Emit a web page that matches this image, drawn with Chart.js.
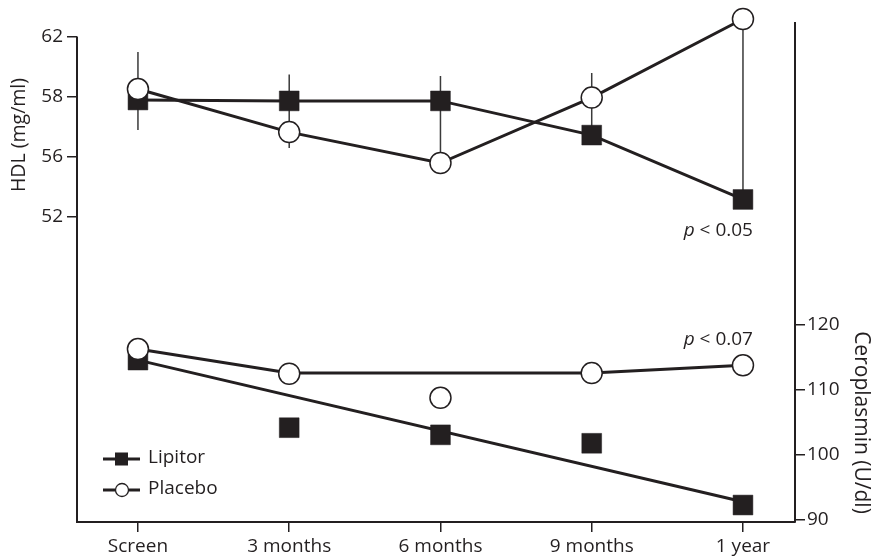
<!DOCTYPE html>
<html><head><meta charset="utf-8">
<script src="https://cdn.jsdelivr.net/npm/chart.js@4.4.0/dist/chart.umd.min.js"></script>
<style>html,body{margin:0;padding:0;background:#fff}#wrap{width:871px;height:560px;position:relative}</style>
</head><body><div id="wrap"><canvas id="c"></canvas></div>
<script>
// ---- data ----
const categories = ['Screen', '3 months', '6 months', '9 months', '1 year'];
const hdlTickLabels = [62, 58, 56, 52];
const ceruloTickLabels = [90, 100, 110, 120];
const hdlLipitor = [57.9, 57.87, 57.87, 56.73, 53.17];
const hdlPlacebo = [58.53, 56.83, 55.6, 57.98, 63.2];
const hdlErrLow = [56.9, 56.3, 55.6, 56.73, 53.17];
const hdlErrHigh = [61.0, 59.5, 59.4, 59.6, 63.2];
const ceruloLipitor = [114.6, 104.2, 103.1, 101.8, 92.3];
const ceruloPlacebo = [116.3, 112.5, 108.8, 112.6, 113.8];
const ceruloLipitorFit = [114.6, null, null, null, 92.8];
const ceruloPlaceboFit = [116.3, 112.6, null, 112.6, 113.8];
const seriesNames = ['Lipitor', 'Placebo'];
const pNotes = [' < 0.05', ' < 0.07'];

// ---- helpers ----
const INK = '#231f20';
const FONT = '"Open Sans", Lato, sans-serif';
const FS = 19;
// HDL axis labels are equally spaced; map a value to its label-index position
function hdlPos(v) {
  if (v === null) return null;
  const t = hdlTickLabels;
  let i = 0;
  while (i < t.length - 2 && v < t[i + 1]) i++;
  return i + (t[i] - v) / (t[i] - t[i + 1]);
}
const pts = (arr, f) => arr.map((v, i) => ({ x: i, y: v === null ? null : (f ? f(v) : v) }));
const errData = [];
hdlErrLow.forEach((lo, i) => {
  errData.push({ x: i, y: hdlPos(hdlErrHigh[i]) }, { x: i, y: hdlPos(lo) }, { x: i, y: null });
});

const lineBase = { borderColor: INK, borderWidth: 3, pointRadius: 0, fill: false, clip: false, tension: 0 };
const sqMarker = { showLine: false, pointStyle: 'rect', pointRadius: 14, pointBackgroundColor: INK, pointBorderColor: INK, pointBorderWidth: 0.5, clip: false, order: 1 };
const ciMarker = { showLine: false, pointStyle: 'circle', pointRadius: 10.5, pointBackgroundColor: '#fff', pointBorderColor: INK, pointBorderWidth: 1.5, clip: false, order: 0 };

const overlay = {
  id: 'overlay',
  afterDraw(chart) {
    const ctx = chart.ctx, ca = chart.chartArea;
    const xs = chart.scales.x, yL = chart.scales.yL, yR = chart.scales.yR;
    ctx.save();
    // left axis line (starts at top tick)
    ctx.strokeStyle = INK; ctx.lineWidth = 2;
    ctx.beginPath();
    ctx.moveTo(ca.left, yL.getPixelForValue(0) - 0.5);
    ctx.lineTo(ca.left, ca.bottom + 1);
    ctx.stroke();
    // axis titles
    ctx.fillStyle = INK;
    ctx.textAlign = 'center'; ctx.textBaseline = 'middle';
    ctx.save();
    ctx.font = '19.5px ' + FONT;
    ctx.translate(19, (yL.getPixelForValue(0) + yL.getPixelForValue(3)) / 2 + 8);
    ctx.rotate(-Math.PI / 2);
    ctx.fillText('HDL (mg/ml)', 0, 0);
    ctx.restore();
    ctx.save();
    ctx.font = '21px ' + FONT;
    ctx.translate(861, (yR.getPixelForValue(90) + yR.getPixelForValue(120)) / 2);
    ctx.rotate(Math.PI / 2);
    ctx.fillText('Ceroplasmin (U/dl)', 0, 0);
    ctx.restore();
    // p annotations
    const xRight = xs.getPixelForValue(4) + 10;
    const notesY = [yL.getPixelForValue(3) + 19, yR.getPixelForValue(116.9)];
    ctx.textBaseline = 'alphabetic'; ctx.textAlign = 'left';
    pNotes.forEach((t, k) => {
      ctx.font = FS + 'px ' + FONT;
      const w2 = ctx.measureText(t).width;
      ctx.font = 'italic ' + FS + 'px ' + FONT;
      const w1 = ctx.measureText('p').width;
      const x0 = xRight - w1 - w2;
      ctx.fillText('p', x0, notesY[k]);
      ctx.font = FS + 'px ' + FONT;
      ctx.fillText(t, x0 + w1, notesY[k]);
    });
    // legend
    const lx = ca.left + 26, ly = [ca.bottom - 63, ca.bottom - 32];
    ctx.lineWidth = 3; ctx.strokeStyle = INK;
    seriesNames.forEach((name, k) => {
      ctx.beginPath(); ctx.moveTo(lx, ly[k]); ctx.lineTo(lx + 37, ly[k]); ctx.stroke();
      if (k === 0) {
        ctx.fillStyle = INK; ctx.fillRect(lx + 12, ly[k] - 6.5, 13, 13);
      } else {
        ctx.fillStyle = '#fff'; ctx.lineWidth = 1.3;
        ctx.beginPath(); ctx.arc(lx + 19, ly[k], 6.5, 0, Math.PI * 2); ctx.fill(); ctx.stroke();
        ctx.lineWidth = 3;
      }
      ctx.fillStyle = INK; ctx.font = FS + 'px ' + FONT; ctx.textBaseline = 'middle';
      ctx.fillText(name, lx + 45, ly[k] - 1);
    });
    ctx.restore();
  }
};

new Chart(document.getElementById('c'), {
  type: 'line',
  data: {
    datasets: [
      Object.assign({ label: 'HDL Lipitor line', data: pts(hdlLipitor, hdlPos), yAxisID: 'yL', order: 2 }, lineBase),
      Object.assign({ label: 'HDL Placebo line', data: pts(hdlPlacebo, hdlPos), yAxisID: 'yL', order: 2 }, lineBase),
      Object.assign({ label: 'Cerulo Lipitor fit', data: pts(ceruloLipitorFit), yAxisID: 'yR', order: 2, spanGaps: true }, lineBase),
      Object.assign({ label: 'Cerulo Placebo fit', data: pts(ceruloPlaceboFit), yAxisID: 'yR', order: 2, spanGaps: true }, lineBase),
      Object.assign({}, lineBase, { label: 'HDL error', data: errData, yAxisID: 'yL', order: 3, borderWidth: 1.5, borderColor: '#3a3a3a', spanGaps: false }),
      Object.assign({ label: 'HDL Lipitor', data: pts(hdlLipitor, hdlPos), yAxisID: 'yL' }, sqMarker),
      Object.assign({ label: 'HDL Placebo', data: pts(hdlPlacebo, hdlPos), yAxisID: 'yL' }, ciMarker),
      Object.assign({ label: 'Cerulo Lipitor', data: pts(ceruloLipitor), yAxisID: 'yR' }, sqMarker),
      Object.assign({ label: 'Cerulo Placebo', data: pts(ceruloPlacebo), yAxisID: 'yR' }, ciMarker)
    ]
  },
  options: {
    responsive: true, maintainAspectRatio: false, animation: false,
    layout: { padding: { top: 23, left: 0, right: 0, bottom: 0 } },
    plugins: { legend: { display: false }, tooltip: { enabled: false } },
    scales: {
      x: {
        type: 'linear', position: 'bottom', min: -0.403, max: 4.344,
        afterBuildTicks: s => { s.ticks = categories.map((c, i) => ({ value: i })); },
        afterFit: s => { s.height = 38; },
        ticks: { callback: v => categories[v], color: INK, font: { family: FONT, size: FS }, padding: 3, maxRotation: 0, autoSkip: false },
        grid: { drawOnChartArea: false, drawTicks: true, tickLength: 10, color: INK, lineWidth: 1.5 },
        border: { display: true, color: INK, width: 2 }
      },
      yL: {
        type: 'linear', position: 'left', reverse: true, min: -0.2333, max: 8.083,
        afterBuildTicks: s => { s.ticks = hdlTickLabels.map((t, i) => ({ value: i })); },
        afterFit: s => { s.width = 77; },
        ticks: { callback: v => hdlTickLabels[v], color: INK, font: { family: FONT, size: FS }, padding: 4 },
        grid: { drawOnChartArea: false, drawTicks: true, tickLength: 10, color: INK, lineWidth: 1.5 },
        border: { display: false }
      },
      yR: {
        type: 'linear', position: 'right', min: 89.69, max: 166.46,
        afterBuildTicks: s => { s.ticks = ceruloTickLabels.map(v => ({ value: v })); },
        afterFit: s => { s.width = 76; },
        ticks: { color: INK, font: { family: FONT, size: FS }, padding: 2 },
        grid: { drawOnChartArea: false, drawTicks: true, tickLength: 10, color: INK, lineWidth: 1.5 },
        border: { display: true, color: INK, width: 2 }
      }
    }
  },
  plugins: [overlay]
});
</script>
</body></html>
